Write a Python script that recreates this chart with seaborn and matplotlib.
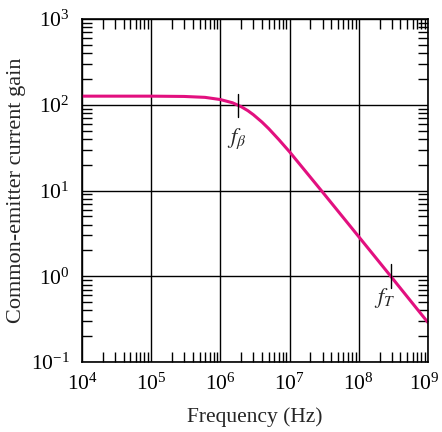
import numpy as np
import pandas as pd
import matplotlib
matplotlib.use("Agg")
import matplotlib.pyplot as plt
import matplotlib.ticker as mticker
import matplotlib.transforms as mtransforms
import seaborn as sns

# values
freq = [1e4, 1e5, 3e5, 6e5, 1e6, 1.5e6, 2e6, 2.5e6, 3e6, 4e6, 5e6, 7e6,
        1e7, 3e7, 1e8, 3e8, 1e9]
gain = [126, 126, 125, 122, 115, 105.5, 95, 85.3, 76.6, 62.8, 52.7, 39.3,
        28.3, 9.6, 2.9, 0.97, 0.29]
f_beta = 1.8e6
f_t = 2.9e8
x_ticks = [1e4, 1e5, 1e6, 1e7, 1e8, 1e9]
y_ticks = [1e-1, 1e0, 1e1, 1e2, 1e3]

df = pd.DataFrame({"freq": freq, "gain": gain})

sns.set_style("ticks")
plt.rcParams["font.family"] = ["Liberation Serif", "DejaVu Serif"]
plt.rcParams["mathtext.fontset"] = "stix"

fig = plt.figure(figsize=(4.42, 4.32), dpi=100)
ax = fig.add_axes([0.1855, 0.162, 0.7825, 0.794])

sns.lineplot(data=df, x="freq", y="gain", ax=ax, color="#E2107F", lw=2.2)

ax.set_xscale("log")
ax.set_yscale("log")
ax.set_xlim(1e4, 1e9)
ax.set_ylim(1e-1, 1e3)

ax.xaxis.set_major_locator(mticker.FixedLocator(x_ticks))
ax.yaxis.set_major_locator(mticker.FixedLocator(y_ticks))
ax.xaxis.set_major_formatter(mticker.LogFormatterMathtext())
ax.yaxis.set_major_formatter(mticker.LogFormatterMathtext())
ax.xaxis.set_minor_locator(mticker.LogLocator(subs=np.arange(2, 10), numticks=20))
ax.yaxis.set_minor_locator(mticker.LogLocator(subs=np.arange(2, 10), numticks=20))
ax.xaxis.set_minor_formatter(mticker.NullFormatter())
ax.yaxis.set_minor_formatter(mticker.NullFormatter())

ax.grid(True, which="major", color="black", lw=1.0)
ax.tick_params(which="major", length=0, labelsize=15.5, colors="black")
ax.tick_params(axis="x", which="major", pad=8)
ax.tick_params(axis="y", which="major", pad=9)
ax.tick_params(which="minor", direction="in", length=7, width=1.0,
               top=True, right=True, color="black")
for s in ax.spines.values():
    s.set_color("black")
    s.set_linewidth(1.2)

# nudge the last x label so it stays inside the figure
fig.canvas.draw()
last = ax.get_xticklabels()[-1]
last.set_transform(last.get_transform() +
                   mtransforms.ScaledTranslation(-4 / 100, 0, fig.dpi_scale_trans))

# f_beta and f_T markers
ax.plot([f_beta, f_beta], [133, 72], color="black", lw=1.0)
ax.text(1.7e6, 40, r"$f_\beta$", ha="center", va="center", fontsize=16)
ax.plot([f_t, f_t], [1.38, 0.73], color="black", lw=1.0)
ax.text(2.4e8, 0.56, r"$f_T$", ha="center", va="center", fontsize=16)

ax.set_xlabel("Frequency (Hz)", fontsize=15.5, labelpad=9)
ax.set_ylabel("Common-emitter current gain", fontsize=16, labelpad=3)

fig.savefig("out.png", dpi=100)
